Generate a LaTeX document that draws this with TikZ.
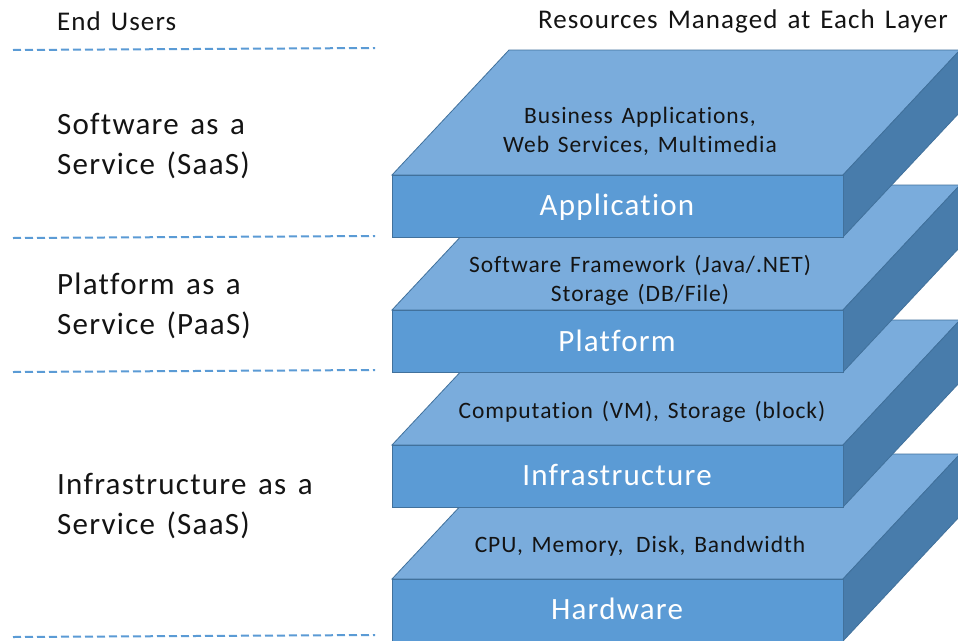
\documentclass[tikz,border=0pt]{standalone}
\usepackage{fontspec}
\setmainfont[LetterSpace=4, WordSpace=1.4, Ligatures=NoCommon]{Carlito}
\definecolor{topc}{RGB}{122,172,220}
\definecolor{frontc}{RGB}{91,155,213}
\definecolor{sidec}{RGB}{72,124,171}
\definecolor{edgec}{RGB}{65,113,156}
\definecolor{dashc}{RGB}{91,155,213}
\definecolor{txt}{RGB}{20,20,20}
\tikzset{
  face/.style={draw=edgec, line width=0.8pt, line join=miter},
  toptext/.style={text=txt, font=\fontsize{23.5}{29}\selectfont, align=center, inner sep=0pt},
  fronttext/.style={text=white, font=\fontsize{31}{36}\selectfont, inner sep=0pt},
  lefttext/.style={text=txt, font=\fontsize{31}{40}\selectfont, align=left, anchor=west, inner sep=0pt},
  headtext/.style={text=txt, font=\fontsize{27}{30}\selectfont, inner sep=0pt},
  sep/.style={draw=dashc, line width=2pt, dash pattern=on 8pt off 4pt}
}
\newcommand{\slab}[1]{%
  \fill[topc, face] (392,#1) -- (509,#1-125) -- (960,#1-125) -- (843,#1) -- cycle;
  \fill[sidec, face] (843,#1) -- (960,#1-125) -- (960,#1-63) -- (843,#1+62) -- cycle;
  \fill[frontc, face] (392,#1) rectangle (843,#1+62);
}
\begin{document}
\begin{tikzpicture}[x=1pt,y=-1pt]
\useasboundingbox (0,0) rectangle (958,640);
\clip (0,0) rectangle (958,640);
\fill[white] (0,0) rectangle (958,640);
% slabs, bottom first
\slab{579}
\slab{445}
\slab{310}
\slab{175}
% front labels
\node[fronttext] (hw) at (617,609) {Hardware};
\node[fronttext] (inf) at (617,475) {Infrastructure};
\node[fronttext] (plat) at (617,341) {Platform};
\node[fronttext] (app) at (617,207) {Application};
% top face texts
\node[toptext] (appres) at (640,131) {Business Applications,\\Web Services, Multimedia};
\node[toptext] (platres) at (640,280) {Software Framework (Java/.NET)\\Storage (DB/File)};
\node[toptext] (infres) at (642,412) {Computation (VM), Storage (block)};
\node[toptext] (hwres) at (640,546) {CPU, Memory,\hspace{4pt} Disk, Bandwidth};
% headers
\node[headtext, anchor=west] (eu) at (57,21) {End Users};
\node[headtext, anchor=east] (rm) at (948,21) {Resources Managed at Each Layer};
% left labels
\node[lefttext] (saas) at (57,146) {Software as a\\Service (SaaS)};
\node[lefttext] (paas) at (57,306) {Platform as a\\Service (PaaS)};
\node[lefttext] (iaas) at (57,506) {Infrastructure as a\\Service (SaaS)};
% dashed separators
\coordinate (d1a) at (13,50);  \coordinate (d1b) at (375,48);
\coordinate (d2a) at (13,238); \coordinate (d2b) at (375,236);
\coordinate (d3a) at (13,372); \coordinate (d3b) at (375,370);
\coordinate (d4a) at (13,637); \coordinate (d4b) at (375,635);
\draw[sep] (d1a) -- (d1b);
\draw[sep] (d2a) -- (d2b);
\draw[sep] (d3a) -- (d3b);
\draw[sep] (d4a) -- (d4b);
\end{tikzpicture}
\end{document}
